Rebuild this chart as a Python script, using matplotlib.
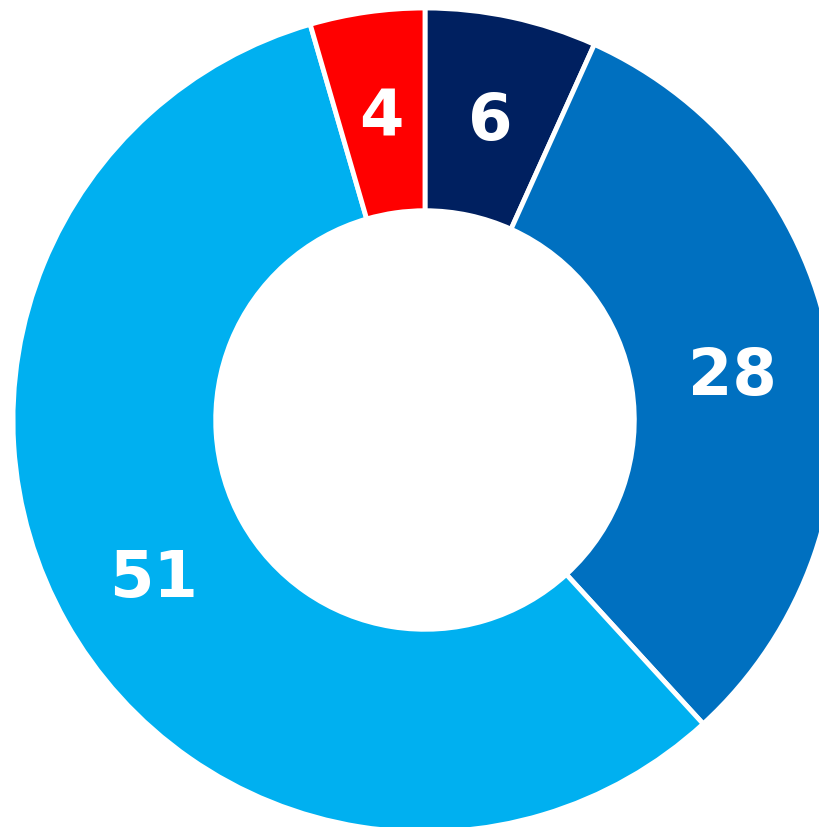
import matplotlib
matplotlib.use("Agg")
import matplotlib.pyplot as plt
import numpy as np

# segment values, clockwise from 12 o'clock
values = [6, 28, 51, 4]
labels = ["6", "28", "51", "4"]
colors = ["#002060", "#0070C0", "#00B0F0", "#FF0000"]

W, H = 820, 827
cx, cy, r = 425, 420, 412   # centre and outer radius in pixels

fig = plt.figure(figsize=(W / 100, H / 100), dpi=100)
ax = fig.add_axes([0, 0, 1, 1])

ax.pie(values, colors=colors, startangle=90, counterclock=False, radius=1.0,
       wedgeprops=dict(width=0.492, edgecolor="white", linewidth=3.5))

# labels in the middle of the ring, nudged a touch down
total = sum(values)
start = 90.0
for v, lab in zip(values, labels):
    mid = np.deg2rad(start - v / total * 360 / 2)
    ax.text(0.755 * np.cos(mid), 0.755 * np.sin(mid) - 0.016, lab,
            ha="center", va="center", color="white",
            fontsize=46, fontweight="bold", family="DejaVu Sans")
    start -= v / total * 360

ax.set_xlim(-cx / r, (W - cx) / r)
ax.set_ylim(-(H - cy) / r, cy / r)
ax.set_aspect("auto")
ax.axis("off")

fig.savefig("out.png", dpi=100)
